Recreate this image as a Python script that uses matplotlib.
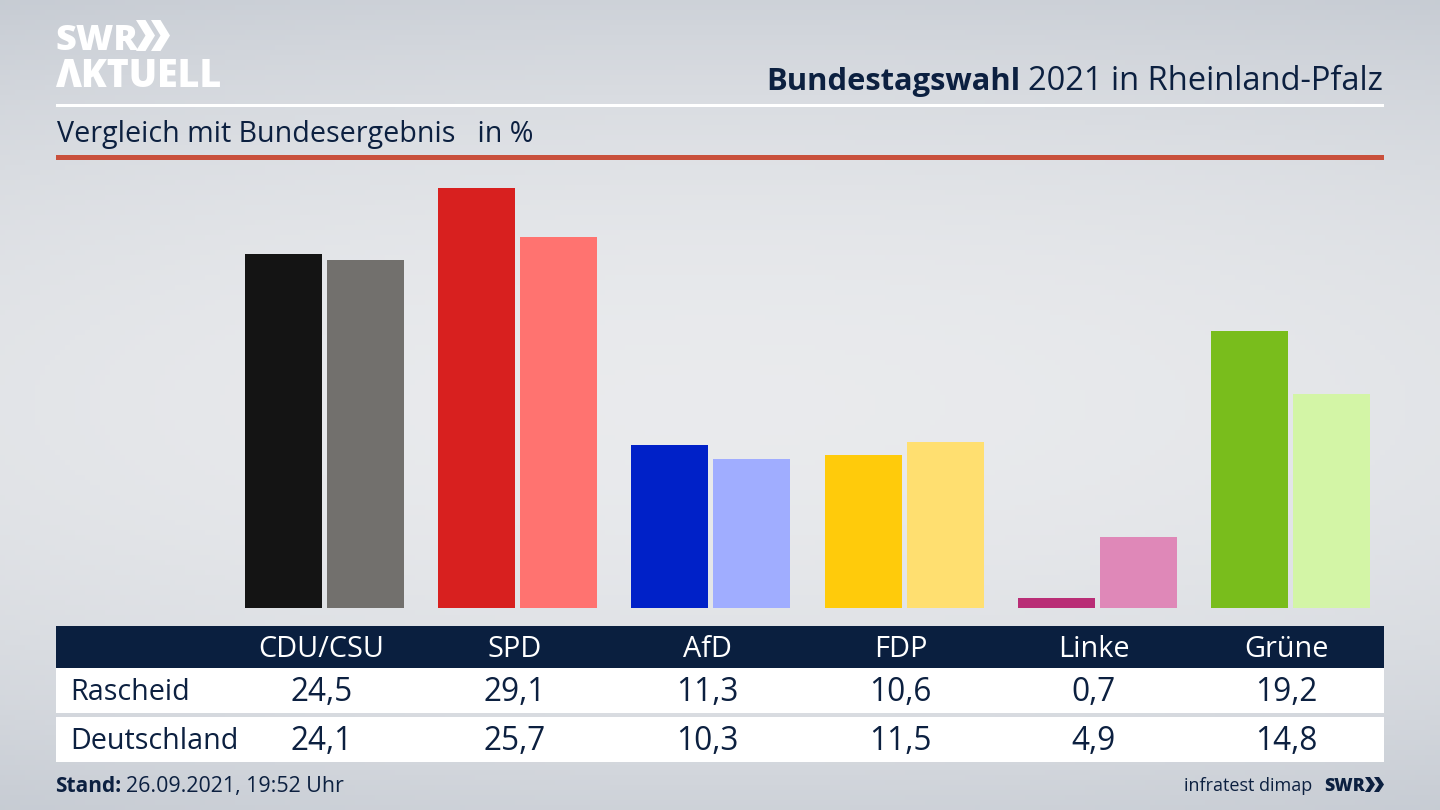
import numpy as np
import matplotlib
matplotlib.use("Agg")
import matplotlib.pyplot as plt
from matplotlib.patches import Polygon, Rectangle

parties = ["CDU/CSU", "SPD", "AfD", "FDP", "Linke", "Grüne"]
rascheid = [24.5, 29.1, 11.3, 10.6, 0.7, 19.2]
deutschland = [24.1, 25.7, 10.3, 11.5, 4.9, 14.8]
rascheid_colors = ["#141414", "#d8201f", "#0021c8", "#ffcb0b", "#b92d76", "#79bd1c"]
deutschland_colors = ["#72706d", "#ff7370", "#a0adff", "#ffdf70", "#df88b8", "#d3f5a6"]
row_names = ["Rascheid", "Deutschland"]

NAVY = "#0c2040"
plt.rcParams["font.family"] = "Open Sans"


def fmt(v):
    return f"{v:.1f}".replace(".", ",")


def chevron(ax, x, y, w, h, color):
    ax.add_patch(Polygon([(x, y), (x + w * 0.5, y), (x + w, y + h / 2), (x + w * 0.5, y + h),
                          (x, y + h), (x + w * 0.5, y + h / 2)], closed=True, color=color, lw=0, zorder=2))


fig = plt.figure(figsize=(14.4, 8.1), dpi=100)

# page background, in pixel coordinates
page = fig.add_axes([0, 0, 1, 1])
page.set_xlim(0, 1440)
page.set_ylim(810, 0)
page.axis("off")

yy = np.linspace(0, 1, 162)
xx = np.linspace(0, 1, 288)
gx, gy = np.meshgrid(xx, yy)
shade = np.clip(1 - ((gy - 0.5) / 0.56) ** 2 - 0.2 * ((gx - 0.5) / 0.5) ** 2, 0, 1)
low = np.array([0.78, 0.80, 0.83])
high = np.array([0.915, 0.92, 0.93])
page.imshow(low + shade[..., None] * (high - low), extent=(0, 1440, 810, 0), aspect="auto", zorder=0)

# logo
page.text(55, 50, "SWR", color="white", fontsize=26, fontweight=800, va="baseline", zorder=2)
chevron(page, 136, 20, 19, 31, "white")
chevron(page, 151, 20, 19, 31, "white")
page.text(55, 87, "ΛKTUELL", color="white", fontsize=27, fontweight=800, va="baseline", zorder=2)

# header
page.add_patch(Rectangle((56, 104), 1328, 3, color="white", lw=0, zorder=2))
page.add_patch(Rectangle((56, 155), 1328, 5, color="#c9503c", lw=0, zorder=2))
page.text(1383, 90, "2021 in Rheinland-Pfalz", color=NAVY, fontsize=23.5, ha="right", va="baseline", zorder=3)
page.text(1020, 90, "Bundestagswahl", color=NAVY, fontsize=22.2, fontweight="bold", ha="right", va="baseline", zorder=3)
page.text(57, 142, "Vergleich mit Bundesergebnis   in %", color=NAVY, fontsize=20.6, va="baseline", zorder=3)

# bars: one category is 193.2 px wide, first category centred at 324.5 px
ax = fig.add_axes([56 / 1440, (810 - 608) / 810, 1328 / 1440, 421 / 810])
ax.patch.set_alpha(0)
ax.set_xlim((56 - 324.5) / 193.2, (1384 - 324.5) / 193.2)
ax.set_ylim(0, 29.17)
ax.axis("off")
pos = np.arange(len(parties))
ax.bar(pos - 0.2122, rascheid, width=0.3986, color=rascheid_colors)
ax.bar(pos + 0.2122, deutschland, width=0.3986, color=deutschland_colors)

# table
page.add_patch(Rectangle((56, 626), 1328, 42, color="#0a1f3f", lw=0, zorder=2))
page.add_patch(Rectangle((56, 668), 1328, 45, color="white", lw=0, zorder=2))
page.add_patch(Rectangle((56, 717), 1328, 45, color="white", lw=0, zorder=2))
for i, name in enumerate(parties):
    x = 321.5 + 193 * i
    page.text(x, 657, name, color="white", fontsize=20.8, ha="center", va="baseline", zorder=3)
    page.text(x, 701, fmt(rascheid[i]), color=NAVY, fontsize=22.8, ha="center", va="baseline", zorder=3)
    page.text(x, 750, fmt(deutschland[i]), color=NAVY, fontsize=22.8, ha="center", va="baseline", zorder=3)
page.text(70, 700, row_names[0], color=NAVY, fontsize=20.7, va="baseline", zorder=3)
page.text(70, 749, row_names[1], color=NAVY, fontsize=20.7, va="baseline", zorder=3)

# footer
page.text(55, 792, "Stand:", color=NAVY, fontsize=15, fontweight="bold", va="baseline", zorder=3)
page.text(126, 792, "26.09.2021, 19:52 Uhr", color=NAVY, fontsize=15.4, va="baseline", zorder=3)
page.text(1312, 791, "infratest dimap", color=NAVY, fontsize=13, ha="right", va="baseline", zorder=3)
page.text(1324, 791, "SWR", color=NAVY, fontsize=12.8, fontweight=800, va="baseline", zorder=3)
chevron(page, 1365, 777, 10, 15, NAVY)
chevron(page, 1374, 777, 10, 15, NAVY)

fig.savefig("out.png", dpi=100)
